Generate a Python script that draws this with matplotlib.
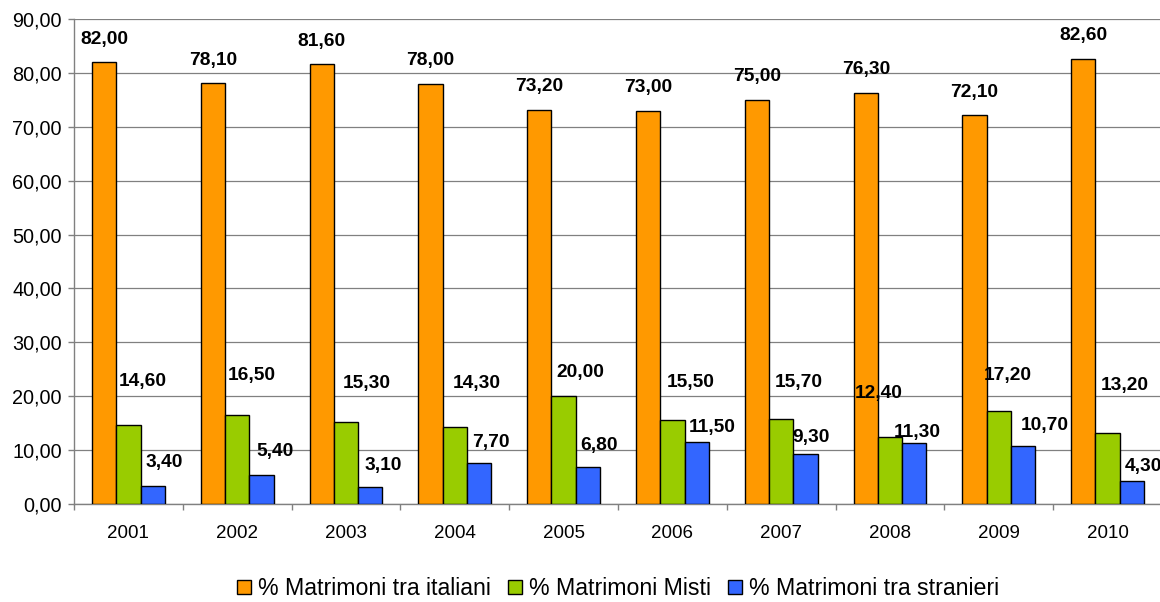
import numpy as np
import matplotlib
matplotlib.use("Agg")
import matplotlib.pyplot as plt
from matplotlib.ticker import FuncFormatter

plt.rcParams['font.family'] = ['Liberation Sans', 'DejaVu Sans']

## Data
years = ['2001', '2002', '2003', '2004', '2005', '2006', '2007', '2008', '2009', '2010']
italiani = [82.0, 78.1, 81.6, 78.0, 73.2, 73.0, 75.0, 76.3, 72.1, 82.6]
misti = [14.6, 16.5, 15.3, 14.3, 20.0, 15.5, 15.7, 12.4, 17.2, 13.2]
stranieri = [3.4, 5.4, 3.1, 7.7, 6.8, 11.5, 9.3, 11.3, 10.7, 4.3]

series_names = ['% Matrimoni tra italiani', '% Matrimoni Misti', '% Matrimoni tra stranieri']
colors = ['#FF9900', '#99CC00', '#3366FF']

# label offsets (pixels) from top centre of each bar
off_ita = [(0, 23)] * 10
off_mis = [(14, 44), (15, 40), (21, 38), (22, 43), (17, 24),
           (18, 38), (18, 37), (-11, 44), (9, 36), (17, 47)]
off_str = [(12, 23), (14, 23), (13, 22), (12, 20), (11, 22),
           (16, 15), (6, 16), (3, 11), (22, 21), (12, 14)]

def fmt(v):
    return f'{v:.2f}'.replace('.', ',')

fig = plt.figure(figsize=(11.6, 6.02), dpi=100)
ax = fig.add_axes([74/1160, 98/602, 1088/1160, 485/602])

x = np.arange(len(years))
bw = 0.2225
data = [italiani, misti, stranieri]
offsets = [off_ita, off_mis, off_str]
for k, (vals, col, name, offs) in enumerate(zip(data, colors, series_names, offsets)):
    xs = x + (k - 1) * bw
    ax.bar(xs, vals, width=bw, color=col, edgecolor='black', linewidth=1.0,
           label=name, zorder=3)
    for xi, v, (dx, dy) in zip(xs, vals, offs):
        ax.annotate(fmt(v), (xi, v), xytext=(dx, dy), textcoords='offset pixels',
                    ha='center', va='center', fontsize=13.8, fontweight='bold',
                    zorder=4, annotation_clip=False)

ax.set_xlim(-0.5, len(years) - 0.5)
ax.set_ylim(0, 90)
ax.set_yticks(np.arange(0, 91, 10))
ax.yaxis.set_major_formatter(FuncFormatter(lambda v, p: fmt(v)))

ax.set_xticks(x)
ax.set_xticklabels(years)
ax.set_xticks(np.arange(-0.5, len(years), 1.0), minor=True)
ax.tick_params(axis='x', which='major', length=0, pad=15, labelsize=13.5)
ax.tick_params(axis='x', which='minor', length=4.3, width=1.0, color='#808080', direction='out')
ax.tick_params(axis='y', length=4.3, width=1.0, color='#808080', pad=4.5, labelsize=14.3)

ax.yaxis.grid(True, color='#808080', linewidth=0.9, zorder=0)
ax.set_axisbelow(True)
for s in ['top', 'right']:
    ax.spines[s].set_visible(False)
for s in ['left', 'bottom']:
    ax.spines[s].set_color('#808080')
    ax.spines[s].set_linewidth(1.0)

fig.legend(loc='center', bbox_to_anchor=(0.533, 0.022), ncol=3, frameon=False,
           fontsize=16.7, handlelength=0.6, handleheight=0.6, handletextpad=0.3,
           columnspacing=0.75)

fig.savefig('out.png', dpi=100)
